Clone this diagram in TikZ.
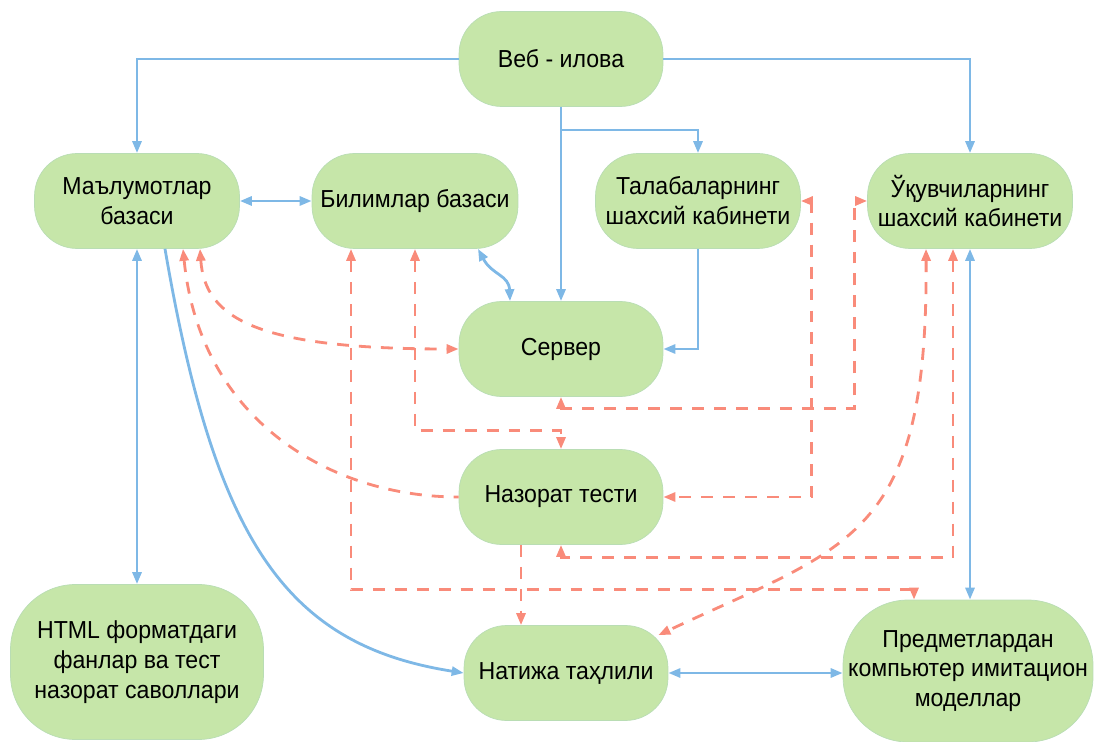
\documentclass[tikz,border=0pt]{standalone}
\usepackage{fontspec}
\setmainfont{Liberation Sans}[FakeStretch=0.94]
\usepackage{tikz}
\usetikzlibrary{shapes,arrows.meta,positioning}
\definecolor{boxgreen}{HTML}{C6E6A9}
\definecolor{boxedge}{HTML}{B9DDB4}
\definecolor{linkblue}{HTML}{7EB8E6}
\definecolor{linkred}{HTML}{F98B7A}

\begin{document}
\begin{tikzpicture}[x=0.02cm, y=-0.02cm,
    box/.style={draw=boxedge, fill=boxgreen, rounded corners=0.85cm, minimum width=4.08cm, minimum height=1.9cm, align=center, inner sep=1pt, font=\fontsize{14}{17}\selectfont},
    bigbox/.style={box, rounded corners=1.3cm},
    blue link/.style={draw=linkblue, line width=1.6pt, >={Triangle[length=2.4mm,width=1.8mm]}},
    red link/.style={draw=linkred, line width=1.6pt, dash pattern=on 6.8pt off 5.7pt, >={Triangle[length=2.4mm,width=1.8mm]}}]

    \useasboundingbox (0,0) rectangle (1094,742);

    % boxes
    \node[box] (web) at (561,59) {Веб - илова};
    \node[box, minimum width=4.1cm] (dbase) at (137,201) {Маълумотлар\\базаси};
    \node[box, minimum width=4.12cm] (kbase) at (415,201) {Билимлар базаси};
    \node[box, minimum width=4.1cm] (stud) at (698,201) {Талабаларнинг\\шахсий кабинети};
    \node[box, minimum width=4.1cm] (pupil) at (970,201) {Ўқувчиларнинг\\шахсий кабинети};
    \node[box] (server) at (561,349) {Сервер};
    \node[box] (test) at (561,497) {Назорат тести};
    \node[bigbox, minimum width=5.06cm, minimum height=3.1cm] (html) at (137,662) {HTML форматдаги\\фанлар ва тест\\назорат саволлари};
    \node[box] (result) at (566,673) {Натижа таҳлили};
    \node[bigbox, minimum width=5cm, minimum height=2.84cm] (model) at (968,671) {Предметлардан\\компьютер имитацион\\моделлар};

    \coordinate (split) at (561,130);

    % solid links
    \draw[blue link, ->] (web.west) -| (dbase.north);
    \draw[blue link, ->] (web.east) -| (pupil.north);
    \draw[blue link, ->] (web.south) -- (server.north);
    \draw[blue link, ->] (split) -| (stud.north);
    \draw[blue link, ->] (stud.south) |- (server.east);
    \draw[blue link, <->] (dbase.east) -- (kbase.west);
    \draw[blue link, <->] ([xshift=1.26cm]kbase.south) .. controls (492,275) and (509,275) .. ([xshift=-1.02cm]server.north);
    \draw[blue link, <->] (dbase.south) -- (html.north);
    \draw[blue link, ->] ([xshift=0.56cm]dbase.south) .. controls (215,540) and (285,645) .. (result.west);
    \draw[blue link, <->] (pupil.south) -- (pupil.south |- model.north);
    \draw[blue link, <->] (result.east) -- (result.east -| model.west);

    % dashed links
    \draw[red link, <->] ([xshift=1.26cm]dbase.south) .. controls (205,320) and (260,349) .. (server.west);
    \draw[red link, <-] ([xshift=0.92cm]dbase.south) .. controls (200,420) and (330,497) .. (test.west);
    \draw[red link, <->] ([xshift=-1.28cm]kbase.south) |- ([xshift=-1.08cm,yshift=0.2cm]model.north) -- ([xshift=-1.08cm]model.north);
    \draw[red link, <->] (kbase.south) |- ([yshift=0.38cm]test.north) -- (test.north);
    \draw[red link, <->] (server.south) -- ++(0,12) -| ([xshift=-0.26cm]pupil.west) -- (pupil.west);
    \draw[red link, <->] (stud.east) -- ++(11,0) |- (test.east);
    \draw[red link, <->] ([xshift=-0.34cm]pupil.south) |- ([yshift=-0.26cm]test.south) -- (test.south);
    \draw[red link, <->] ([xshift=-0.88cm]pupil.south) .. controls (928,540) and (850,545) .. ([xshift=-0.2cm,yshift=-0.2cm]result.north east);
    \draw[red link, ->] ([xshift=-0.8cm]test.south) -- ([xshift=-0.8cm]test.south |- result.north);
\end{tikzpicture}
\end{document}
